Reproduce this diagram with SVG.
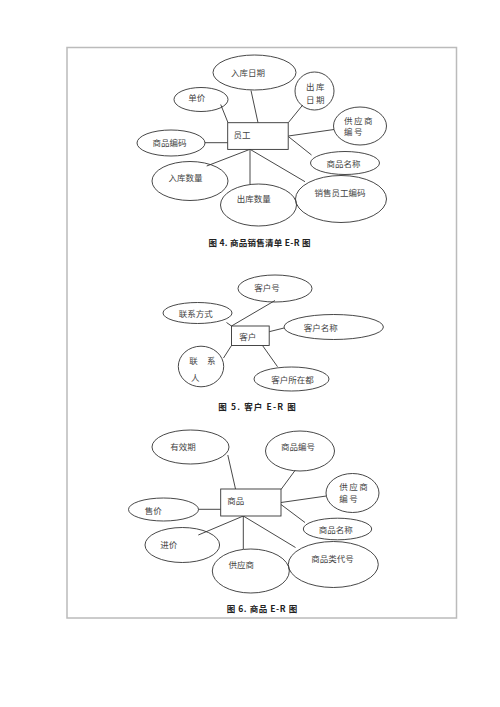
<svg xmlns="http://www.w3.org/2000/svg" width="500" height="707" viewBox="0 0 500 707">
<style>
.e{fill:none;stroke:#333;stroke-width:0.9}
.r{fill:#fff;stroke:#333;stroke-width:0.9}
.c line{stroke:#333;stroke-width:0.9}
text{font-family:"Noto Sans CJK SC","Noto Sans",sans-serif;font-size:8.5px;fill:#444;dominant-baseline:central}
.m{text-anchor:middle}
.s{letter-spacing:1.5px}
.cap{font-weight:bold;fill:#222;font-size:8.5px}
</style>
<rect x="67" y="47.5" width="389.5" height="570.5" fill="none" stroke="#bbb" stroke-width="1.5"/>

<!-- Figure 4 -->
<g class="c" id="connectors4">
<line x1="220.7" y1="104.5" x2="228" y2="122.7"/>
<line x1="251" y1="90.5" x2="258" y2="122.7"/>
<line x1="288.3" y1="122.7" x2="302.7" y2="105"/>
<line x1="288.3" y1="136" x2="334" y2="129.5"/>
<line x1="288.3" y1="136.5" x2="311.5" y2="155"/>
<line x1="205" y1="142.7" x2="227.7" y2="142.7"/>
<line x1="250" y1="149.3" x2="206.7" y2="166"/>
<line x1="250" y1="149.3" x2="250" y2="184"/>
<line x1="250" y1="149.3" x2="305" y2="181.7"/>
</g>
<g id="f4-yuangong"><rect class="r" x="227.7" y="122.7" width="60.5" height="26.7"/><text x="233.5" y="134">员工</text></g>
<g id="f4-rukuriqi"><ellipse class="e" cx="254.5" cy="72.5" rx="41.5" ry="17.5"/><text class="m" x="248" y="72.3">入库日期</text></g>
<g id="f4-danjia"><ellipse class="e" cx="201" cy="99.5" rx="27" ry="12"/><text class="m" x="196.7" y="97">单价</text></g>
<g id="f4-chukuriqi"><ellipse class="e" cx="314.5" cy="91" rx="19.5" ry="19"/><text class="m s" x="316" y="85.5">出库</text><text class="m s" x="316" y="98.5">日期</text></g>
<g id="f4-gysbh"><ellipse class="e" cx="360" cy="126" rx="26.5" ry="19"/><text class="s" x="344" y="119.5">供应商</text><text class="s" x="344" y="131">编号</text></g>
<g id="f4-spbm"><ellipse class="e" cx="171" cy="143" rx="34" ry="13"/><text class="m" x="169.5" y="142.3">商品编码</text></g>
<g id="f4-spmc"><ellipse class="e" cx="345" cy="163" rx="34.5" ry="11.5"/><text class="m" x="343.5" y="162.7">商品名称</text></g>
<g id="f4-rksl"><ellipse class="e" cx="190" cy="181" rx="38" ry="19.5"/><text class="m" x="185.5" y="176.7">入库数量</text></g>
<g id="f4-cksl"><ellipse class="e" cx="258.5" cy="205" rx="38" ry="21"/><text class="m" x="253.7" y="198.3">出库数量</text></g>
<g id="f4-xsygbm"><ellipse class="e" cx="341" cy="199" rx="45.5" ry="23.5"/><text class="m" x="340" y="191.7">销售员工编码</text></g>
<text class="cap" x="208.5" y="242" textLength="102" lengthAdjust="spacing">图 4. 商品销售清单 E-R 图</text>

<!-- Figure 5 -->
<g class="c" id="connectors5">
<line x1="231.5" y1="326" x2="275" y2="300.5"/>
<line x1="226.5" y1="322.5" x2="231.5" y2="326"/>
<line x1="269.2" y1="331.7" x2="284" y2="328"/>
<line x1="223.5" y1="358" x2="231.5" y2="345.5"/>
<line x1="262.5" y1="345.5" x2="277.5" y2="366.7"/>
</g>
<g id="f5-kehu"><rect class="r" x="231.5" y="326" width="37.7" height="19.5"/><text x="239.3" y="335.7">客户</text></g>
<g id="f5-khh"><ellipse class="e" cx="275" cy="288.5" rx="37" ry="13.5"/><text class="m" x="267" y="286.7">客户号</text></g>
<g id="f5-lxfs"><ellipse class="e" cx="197.5" cy="313" rx="34.5" ry="10.5"/><text class="m" x="195.8" y="313.3">联系方式</text></g>
<g id="f5-khmc"><ellipse class="e" cx="333.7" cy="327" rx="49.7" ry="12.5"/><text class="m" x="320.8" y="326.7">客户名称</text></g>
<g id="f5-lxr"><ellipse class="e" cx="201" cy="366.5" rx="22.7" ry="20.3"/><text x="189.3" y="360">联</text><text x="207" y="360">系</text><text x="191" y="376.7">人</text></g>
<g id="f5-khszd"><ellipse class="e" cx="291.5" cy="379" rx="37.5" ry="12"/><text class="m" x="292.5" y="379">客户所在都</text></g>
<text class="cap" x="218.3" y="405.7" textLength="77.5" lengthAdjust="spacing">图 5. 客户 E-R 图</text>

<!-- Figure 6 -->
<g class="c" id="connectors6">
<line x1="227.8" y1="455" x2="235.5" y2="489"/>
<line x1="295" y1="470.5" x2="281" y2="489.5"/>
<line x1="281" y1="502.5" x2="326.3" y2="496"/>
<line x1="198.5" y1="509.3" x2="220.7" y2="509.3"/>
<line x1="281" y1="504.5" x2="305" y2="522.5"/>
<line x1="243.3" y1="516" x2="198.3" y2="535"/>
<line x1="243.3" y1="516" x2="243.3" y2="549"/>
<line x1="243.3" y1="516" x2="295.5" y2="547.5"/>
</g>
<g id="f6-shangpin"><rect class="r" x="220.7" y="489" width="60.3" height="27"/><text x="227.3" y="500.3">商品</text></g>
<g id="f6-yxq"><ellipse class="e" cx="190.5" cy="447" rx="38.5" ry="17"/><text class="m" x="183" y="445.7">有效期</text></g>
<g id="f6-spbh"><ellipse class="e" cx="300" cy="451" rx="34.5" ry="20"/><text class="m" x="298" y="445.7">商品编号</text></g>
<g id="f6-gysbh"><ellipse class="e" cx="352.5" cy="493" rx="26.5" ry="19.5"/><text class="s" x="339.3" y="485.7">供应商</text><text class="s" x="339.3" y="497.7">编号</text></g>
<g id="f6-shoujia"><ellipse class="e" cx="163.5" cy="509.5" rx="35" ry="11.5"/><text class="m" x="153.3" y="510">售价</text></g>
<g id="f6-spmc"><ellipse class="e" cx="337.5" cy="529" rx="34.2" ry="10.8"/><text class="m" x="335.8" y="529">商品名称</text></g>
<g id="f6-jinjia"><ellipse class="e" cx="182.3" cy="545" rx="37.3" ry="17.5"/><text class="m" x="168.8" y="544">进价</text></g>
<g id="f6-gys"><ellipse class="e" cx="250.8" cy="571" rx="38.5" ry="22"/><text class="m" x="241.3" y="564.3">供应商</text></g>
<g id="f6-splddh"><ellipse class="e" cx="333.3" cy="564.5" rx="45" ry="23"/><text class="m" x="332.5" y="558.3">商品类代号</text></g>
<text class="cap" x="226.7" y="608.3" textLength="70.5" lengthAdjust="spacing">图 6. 商品 E-R 图</text>
</svg>
